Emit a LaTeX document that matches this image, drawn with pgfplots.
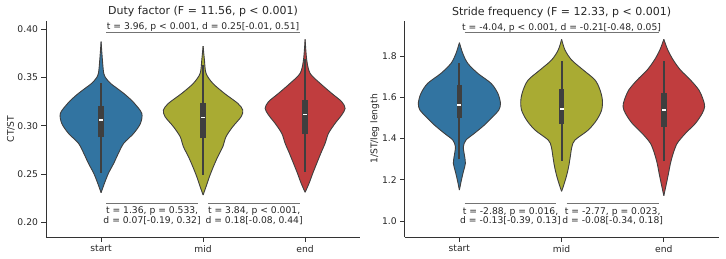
\documentclass[border=0pt]{standalone}
\usepackage{fontspec}
\setmainfont{DejaVu Sans}
\usepackage{pgfplots}
\usepackage{pgfplotstable}
\pgfplotsset{compat=1.18}
\usepgfplotslibrary{fillbetween}

\definecolor{cstart}{HTML}{3274A1}
\definecolor{cmid}{HTML}{A9AB33}
\definecolor{cend}{HTML}{C03D3E}
\definecolor{edge}{HTML}{3F3F3F}
\definecolor{boxc}{HTML}{3F3F3F}
\definecolor{spine}{HTML}{333333}
\definecolor{txt}{HTML}{262626}

% violin outlines: y value and half width (category units)
\pgfplotstableread{
y w
0.2309 0
0.2406 0.033
0.2509 0.072
0.2612 0.124
0.2716 0.170
0.2819 0.222
0.2922 0.320
0.3025 0.386
0.3129 0.399
0.3232 0.327
0.3284 0.278
0.3335 0.222
0.3387 0.157
0.3439 0.092
0.3490 0.049
0.3542 0.026
0.3680 0.013
0.3869 0
}\dfstart
\pgfplotstableread{
y w
0.2285 0
0.2371 0.029
0.2474 0.062
0.2578 0.101
0.2681 0.144
0.2784 0.193
0.2888 0.225
0.2991 0.291
0.3094 0.373
0.3163 0.389
0.3232 0.340
0.3335 0.209
0.3439 0.095
0.3542 0.029
0.3680 0.013
0.3824 0
}\dfmid
\pgfplotstableread{
y w
0.2313 0
0.2406 0.039
0.2509 0.075
0.2612 0.114
0.2716 0.154
0.2819 0.196
0.2922 0.229
0.3025 0.294
0.3112 0.359
0.3180 0.392
0.3249 0.359
0.3335 0.261
0.3439 0.147
0.3542 0.049
0.3680 0.016
0.3894 0
}\dfend
\pgfplotstableread{
y w
1.1503 0
1.1988 0.020
1.2392 0.039
1.2796 0.059
1.3200 0.049
1.3604 0.039
1.3927 0.065
1.4251 0.147
1.4655 0.245
1.5058 0.327
1.5382 0.386
1.5705 0.402
1.6190 0.376
1.6675 0.310
1.7160 0.180
1.7644 0.082
1.8129 0.033
1.8646 0
}\sfstart
\pgfplotstableread{
y w
1.1439 0
1.1665 0.016
1.2149 0.046
1.2634 0.069
1.3119 0.085
1.3604 0.101
1.3927 0.131
1.4412 0.261
1.4897 0.343
1.5382 0.392
1.5867 0.399
1.6352 0.376
1.6836 0.327
1.7321 0.212
1.7806 0.098
1.8291 0.033
1.8808 0
}\sfmid
\pgfplotstableread{
y w
1.1228 0
1.1826 0.026
1.2311 0.046
1.2796 0.065
1.3281 0.092
1.3766 0.131
1.4251 0.212
1.4736 0.310
1.5220 0.376
1.5544 0.399
1.5867 0.386
1.6352 0.343
1.6836 0.261
1.7321 0.163
1.7806 0.092
1.8291 0.039
1.8808 0
}\sfend

% #1 id, #2 position, #3 table, #4 fill colour
\newcommand{\violin}[4]{%
  \addplot[name path=#1r, draw=edge, line width=0.9pt, smooth, tension=0.5]
    table[x expr={#2+\thisrow{w}}, y=y] {#3};
  \addplot[name path=#1l, draw=edge, line width=0.9pt, smooth, tension=0.5]
    table[x expr={#2-\thisrow{w}}, y=y] {#3};
  \addplot[fill=#4, draw=none] fill between[of=#1r and #1l];
}
% #1 position, #2 lower whisker, #3 q1, #4 median, #5 q3, #6 upper whisker
\newcommand{\innerbox}[6]{%
  \addplot[boxc, line width=1.8pt] coordinates {(#1,#2) (#1,#6)};
  \addplot[boxc, line width=5.5pt] coordinates {(#1,#3) (#1,#5)};
  \addplot[only marks, mark=-, mark size=2pt, white, mark options={line width=1.2pt}]
    coordinates {(#1,#4)};
}

\pgfplotsset{
  vstyle/.style={
    scale only axis,
    axis x line*=bottom, axis y line*=left,
    axis line style={spine, line width=0.8pt, -},
    tick align=outside,
    major tick length=4.5pt,
    tick style={spine, line width=0.8pt},
    xtick={0,1,2}, xticklabels={start,mid,end},
    ticklabel style={font=\fontsize{9.2}{11}\selectfont, text=txt},
    /pgf/number format/assume math mode=true,
    label style={font=\fontsize{9.2}{11}\selectfont, text=txt},
    title style={font=\fontsize{11}{13}\selectfont, text=txt, at={(0.5,1)}, anchor=base, yshift=-0.3pt},
    clip=false,
  },
}
\tikzset{
  annot/.style={black!55, line width=0.7pt},
  anntext/.style={anchor=base, font=\fontsize{9.2}{11}\selectfont, text=txt, inner sep=0pt},
}

\begin{document}
\begin{tikzpicture}

\begin{axis}[vstyle,
  at={(46pt,21pt)}, anchor=south west,
  width=314.2pt, height=216.3pt,
  xmin=-0.54, xmax=2.54, ymin=0.1851, ymax=0.4086,
  ytick={0.20,0.25,0.30,0.35,0.40},
  yticklabel style={/pgf/number format/fixed, /pgf/number format/fixed zerofill, /pgf/number format/precision=2},
  title={Duty factor (F = 11.56, p < 0.001)},
  ylabel={CT/ST},
  ylabel style={at={(axis description cs:-0.112,0.5)}, anchor=center},
]
\violin{a}{0}{\dfstart}{cstart}
\violin{b}{1}{\dfmid}{cmid}
\violin{c}{2}{\dfend}{cend}
\innerbox{0}{0.2516}{0.2881}{0.3060}{0.3205}{0.3446}
\innerbox{1}{0.2492}{0.2870}{0.3084}{0.3232}{0.3628}
\innerbox{2}{0.2526}{0.2912}{0.3118}{0.3267}{0.3687}
\draw[annot] (axis cs:0.05,0.3969) -- (axis cs:1.95,0.3969);
\node[anntext] at (axis cs:1,0.3990) {t = 3.96, p < 0.001, d = 0.25[-0.01, 0.51]};
\draw[annot] (axis cs:0.05,0.2202) -- (axis cs:0.95,0.2202);
\draw[annot] (axis cs:1.05,0.2202) -- (axis cs:1.95,0.2202);
\node[anntext] at (axis cs:0.5,0.2089) {t = 1.36, p = 0.533,};
\node[anntext] at (axis cs:0.5,0.1993) {d = 0.07[-0.19, 0.32]};
\node[anntext] at (axis cs:1.5,0.2089) {t = 3.84, p < 0.001,};
\node[anntext] at (axis cs:1.5,0.1993) {d = 0.18[-0.08, 0.44]};
\end{axis}

\begin{axis}[vstyle,
  at={(404.7pt,21pt)}, anchor=south west,
  width=313.8pt, height=216.3pt,
  xmin=-0.535, xmax=2.535, ymin=0.9224, ymax=1.9712,
  ytick={1.0,1.2,1.4,1.6,1.8},
  yticklabel style={/pgf/number format/fixed, /pgf/number format/fixed zerofill, /pgf/number format/precision=1},
  title={Stride frequency (F = 12.33, p < 0.001)},
  ylabel={1/ST/leg length},
  ylabel style={at={(axis description cs:-0.095,0.5)}, anchor=center},
]
\violin{d}{0}{\sfstart}{cstart}
\violin{e}{1}{\sfmid}{cmid}
\violin{f}{2}{\sfend}{cend}
\innerbox{0}{1.2990}{1.4980}{1.5620}{1.6600}{1.7680}
\innerbox{1}{1.2925}{1.4703}{1.5430}{1.6380}{1.7770}
\innerbox{2}{1.2890}{1.4570}{1.5380}{1.6220}{1.7760}
\draw[annot] (axis cs:0.05,1.9164) -- (axis cs:1.95,1.9164);
\node[anntext] at (axis cs:1,1.9260) {t = -4.04, p < 0.001, d = -0.21[-0.48, 0.05]};
\draw[annot] (axis cs:0.05,1.0873) -- (axis cs:0.95,1.0873);
\draw[annot] (axis cs:1.05,1.0873) -- (axis cs:1.95,1.0873);
\node[anntext] at (axis cs:0.5,1.0339) {t = -2.88, p = 0.016,};
\node[anntext] at (axis cs:0.5,0.9888) {d = -0.13[-0.39, 0.13]};
\node[anntext] at (axis cs:1.5,1.0339) {t = -2.77, p = 0.023,};
\node[anntext] at (axis cs:1.5,0.9888) {d = -0.08[-0.34, 0.18]};
\end{axis}

\pgfresetboundingbox
\path[use as bounding box] (0,0) rectangle (726pt,258pt);
\end{tikzpicture}
\end{document}
